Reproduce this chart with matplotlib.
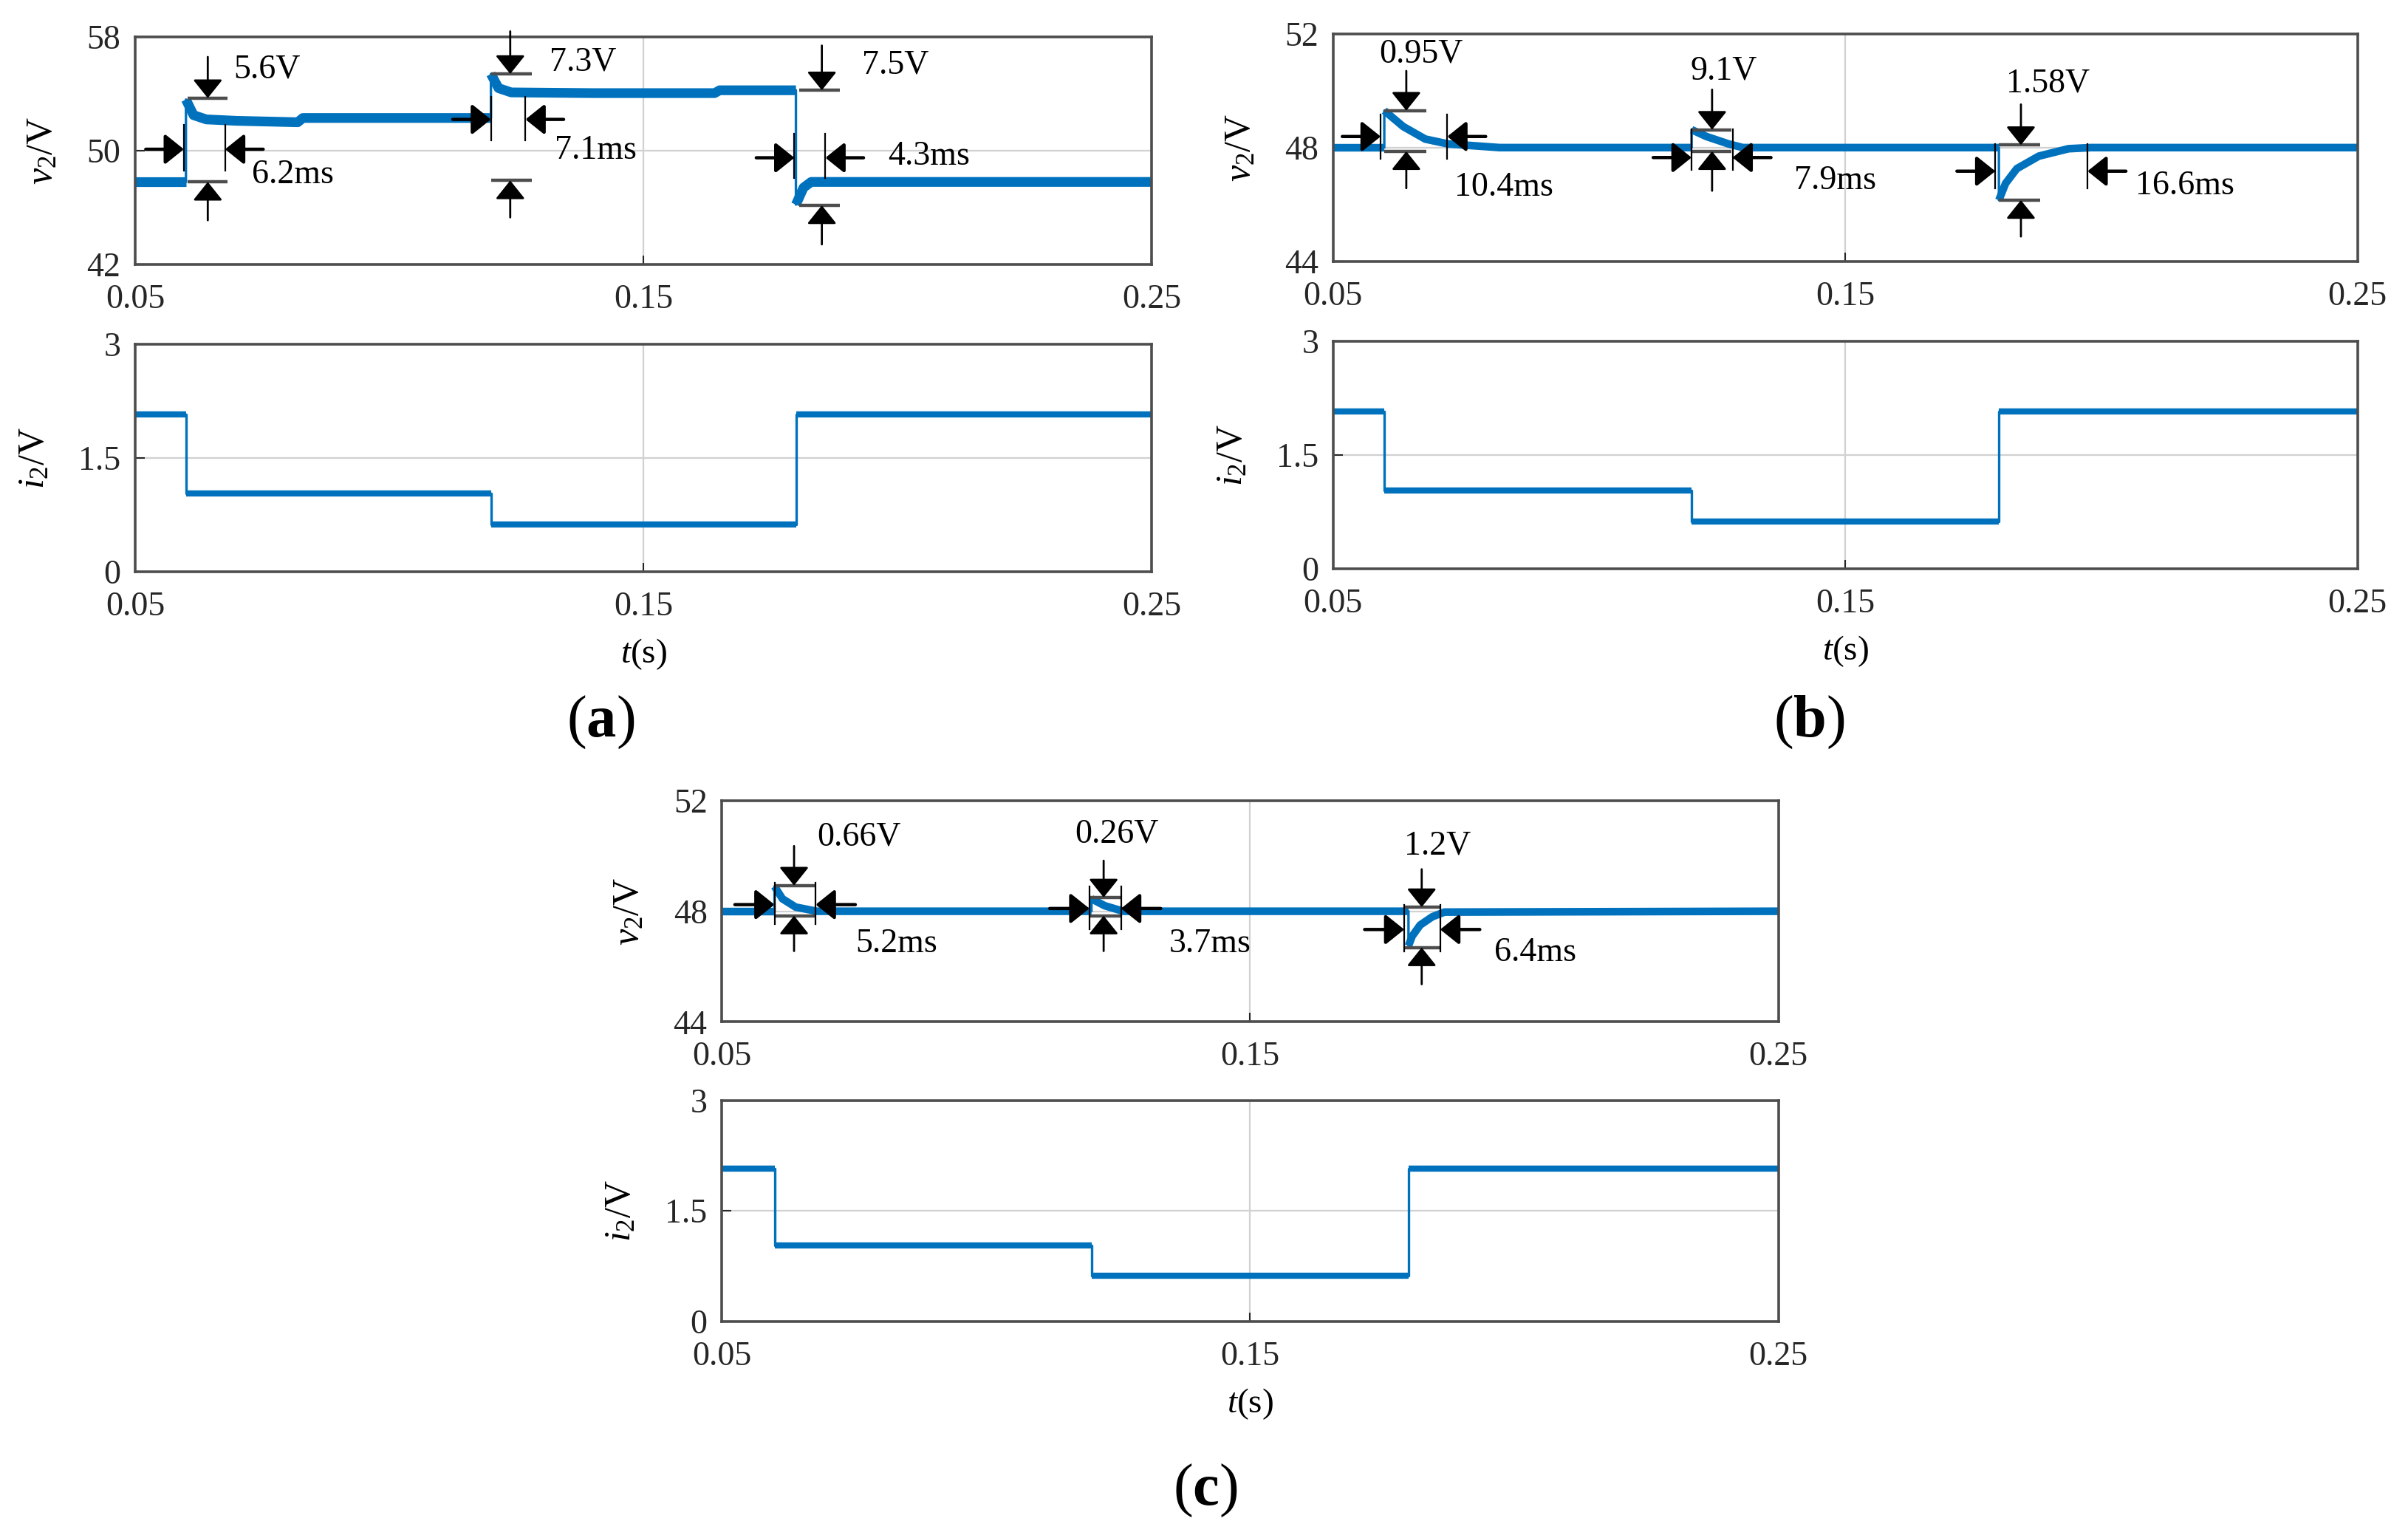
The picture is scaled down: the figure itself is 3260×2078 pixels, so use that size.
import numpy as np
import matplotlib.pyplot as plt

plt.rcParams['font.family'] = ['Liberation Serif', 'DejaVu Serif']
plt.rcParams['mathtext.fontset'] = 'custom'
plt.rcParams['mathtext.rm'] = 'Liberation Serif'
plt.rcParams['mathtext.it'] = 'Liberation Serif:italic'
plt.rcParams['mathtext.bf'] = 'Liberation Serif:bold'

BLUE = '#0072BD'
FS = 33

# ---- data ----
# (a) output voltage v2 (V)
t_a = [0.05, 0.06, 0.06, 0.0615, 0.064, 0.07, 0.082, 0.083, 0.12, 0.12,
       0.1215, 0.124, 0.14, 0.164, 0.165, 0.18, 0.18, 0.1815, 0.183, 0.25]
v_a = [47.8, 47.8, 53.6, 52.5, 52.2, 52.1, 52.0, 52.3, 52.3, 55.4,
       54.4, 54.1, 54.05, 54.05, 54.25, 54.25, 46.2, 47.4, 47.8, 47.8]

# (b) output voltage v2 (V)
t_b = [0.05, 0.06, 0.06, 0.0637, 0.068, 0.0724, 0.0825, 0.12, 0.12, 0.1229,
       0.1272, 0.13, 0.18, 0.18, 0.1813, 0.1835, 0.1878, 0.1936, 0.198, 0.25]
v_b = [48.0, 48.0, 49.3, 48.74, 48.3, 48.13, 48.0, 48.0, 48.63, 48.39,
       48.13, 48.0, 48.0, 46.15, 46.74, 47.26, 47.7, 47.96, 48.0, 48.0]

# (c) output voltage v2 (V)
t_c = [0.05, 0.06, 0.06, 0.0615, 0.064, 0.068, 0.12, 0.12, 0.1225, 0.126,
       0.18, 0.18, 0.1807, 0.1822, 0.1845, 0.1868, 0.25]
v_c = [48.0, 48.0, 48.9, 48.45, 48.15, 48.0, 48.0, 48.45, 48.2, 48.0,
       48.0, 46.75, 47.1, 47.5, 47.8, 47.97, 48.0]

# load current i2 (same in all three cases)
i_t = [0.05, 0.06, 0.12, 0.18, 0.25]
i_lvl = [2.07, 1.03, 0.62, 2.07]

# transient markers: vertical-line times, bar span, peak/base levels, arrow x,
# arrow tails (top, bottom), horizontal arrow level, vertical-line span, labels
marks_a = [
    dict(vl=(0.0596, 0.0677), bar=(0.0603, 0.0682), hi=53.7, lo=47.8, tx=0.0643,
         top=56.6, bot=45.1, hy=50.1, vspan=(48.6, 51.8),
         vtxt='5.6V', vpos=(0.0694, 55.7), mtxt='6.2ms', mpos=(0.073, 48.3)),
    dict(vl=(0.1200, 0.1268), bar=(0.1200, 0.1280), hi=55.4, lo=47.9, tx=0.1238,
         top=58.4, bot=45.3, hy=52.2, vspan=(50.7, 53.8),
         vtxt='7.3V', vpos=(0.1316, 56.2), mtxt='7.1ms', mpos=(0.1326, 50.0)),
    dict(vl=(0.1797, 0.1858), bar=(0.1807, 0.1887), hi=54.25, lo=46.15, tx=0.1851,
         top=57.4, bot=43.4, hy=49.5, vspan=(48.1, 51.2),
         vtxt='7.5V', vpos=(0.193, 56.0), mtxt='4.3ms', mpos=(0.1981, 49.6)),
]
marks_b = [
    dict(vl=(0.0593, 0.0723), bar=(0.0600, 0.0682), hi=49.3, lo=47.87, tx=0.0643,
         top=50.7, bot=46.57, hy=48.39, vspan=(47.6, 49.17),
         vtxt='0.95V', vpos=(0.059, 51.3), mtxt='10.4ms', mpos=(0.0737, 46.6)),
    dict(vl=(0.1200, 0.1280), bar=(0.1200, 0.1277), hi=48.63, lo=47.87, tx=0.1240,
         top=50.04, bot=46.48, hy=47.65, vspan=(47.22, 48.65),
         vtxt='9.1V', vpos=(0.1197, 50.7), mtxt='7.9ms', mpos=(0.140, 46.83)),
    dict(vl=(0.1793, 0.1973), bar=(0.1800, 0.1880), hi=48.09, lo=46.15, tx=0.1843,
         top=49.52, bot=44.87, hy=47.17, vspan=(46.57, 48.13),
         vtxt='1.58V', vpos=(0.1814, 50.26), mtxt='16.6ms', mpos=(0.2067, 46.65)),
]
marks_c = [
    dict(vl=(0.0600, 0.0678), bar=(0.0600, 0.0678), hi=48.93, lo=47.84, tx=0.0637,
         top=50.36, bot=46.56, hy=48.24, vspan=(47.53, 49.04),
         vtxt='0.66V', vpos=(0.068, 50.67), mtxt='5.2ms', mpos=(0.0754, 46.82)),
    dict(vl=(0.1196, 0.1256), bar=(0.1196, 0.1256), hi=48.5, lo=47.84, tx=0.1223,
         top=49.83, bot=46.56, hy=48.1, vspan=(47.35, 48.9),
         vtxt='0.26V', vpos=(0.1169, 50.8), mtxt='3.7ms', mpos=(0.1347, 46.82)),
    dict(vl=(0.1792, 0.1860), bar=(0.1792, 0.1860), hi=48.15, lo=46.69, tx=0.1825,
         top=49.52, bot=45.36, hy=47.34, vspan=(46.56, 48.24),
         vtxt='1.2V', vpos=(0.1792, 50.36), mtxt='6.4ms', mpos=(0.1963, 46.51)),
]


def style_axes(ax, ylim, yticks):
    ax.set_xlim(0.05, 0.25)
    ax.set_ylim(*ylim)
    ax.set_xticks([0.05, 0.15, 0.25])
    ax.set_xticklabels(['0.05', '0.15', '0.25'])
    ax.set_yticks(yticks)
    ax.set_yticklabels([f'{y:g}' for y in yticks])
    ax.grid(True, color='0.82', lw=1.6)
    ax.set_axisbelow(True)
    ax.tick_params(direction='in', length=9, width=1.5, labelsize=FS,
                   colors='0.15', top=False, right=False)
    ax.tick_params(axis='x', pad=19)
    ax.tick_params(axis='y', pad=14)
    for s in ax.spines.values():
        s.set_color('0.3')
        s.set_linewidth(2.6)


def arrow(ax, tail, tip, lw=2.0):
    ax.annotate('', xy=tip, xytext=tail, annotation_clip=False,
                arrowprops=dict(arrowstyle='-|>,head_length=0.6,head_width=0.48',
                                mutation_scale=26, lw=lw, color='k',
                                shrinkA=0, shrinkB=0))


def mark(ax, m):
    for lv in (m['hi'], m['lo']):
        ax.plot(m['bar'], [lv, lv], color='0.3', lw=3.2,
                solid_capstyle='butt', clip_on=False)
    for x in m['vl']:
        ax.plot([x, x], m['vspan'], color='k', lw=1.6)
    arrow(ax, (m['tx'], m['top']), (m['tx'], m['hi']))
    arrow(ax, (m['tx'], m['bot']), (m['tx'], m['lo']))
    arrow(ax, (m['vl'][0] - 0.0075, m['hy']), (m['vl'][0], m['hy']), lw=3.2)
    arrow(ax, (m['vl'][1] + 0.0075, m['hy']), (m['vl'][1], m['hy']), lw=3.2)
    ax.text(*m['vpos'], m['vtxt'], fontsize=FS, ha='left', va='center')
    ax.text(*m['mpos'], m['mtxt'], fontsize=FS, ha='left', va='center')


def plot_voltage(ax, t, v, band):
    t = np.asarray(t)
    v = np.asarray(v)
    ax.plot(t, v, color=BLUE, lw=2.4)
    # thicker band on the continuous pieces (switching ripple)
    cuts = np.where(np.diff(t) == 0)[0] + 1
    for seg_t, seg_v in zip(np.split(t, cuts), np.split(v, cuts)):
        ax.plot(seg_t, seg_v, color=BLUE, lw=band, solid_capstyle='butt')


def plot_current(ax):
    ax.step(i_t, i_lvl + [i_lvl[-1]], where='post', color=BLUE, lw=2.4)
    ax.hlines(i_lvl, i_t[:-1], i_t[1:], color=BLUE, lw=6)


fig = plt.figure(figsize=(32.6, 20.78), dpi=100)

panels = [
    ((0.0561, 0.8278, 0.4222, 0.1481), (0.0561, 0.6276, 0.4222, 0.1481),
     t_a, v_a, 9.5, (42, 58), [42, 50, 58], marks_a, 'a', (0.2494, 0.5295)),
    ((0.5536, 0.8298, 0.4254, 0.1481), (0.5536, 0.6296, 0.4254, 0.1481),
     t_b, v_b, 7.5, (44, 52), [44, 48, 52], marks_b, 'b', (0.7513, 0.5295)),
    ((0.2997, 0.3343, 0.4388, 0.1441), (0.2997, 0.1391, 0.4388, 0.1441),
     t_c, v_c, 7.5, (44, 52), [44, 48, 52], marks_c, 'c', (0.5006, 0.029)),
]

for rect_v, rect_i, t, v, band, ylim, yticks, marks, tag, tag_xy in panels:
    axv = fig.add_axes(rect_v)
    style_axes(axv, ylim, yticks)
    plot_voltage(axv, t, v, band)
    for m in marks:
        mark(axv, m)
    axv.set_ylabel(r'$v_2$/V', fontsize=36, labelpad=26)

    axi = fig.add_axes(rect_i)
    style_axes(axi, (0, 3), [0, 1.5, 3])
    plot_current(axi)
    axi.set_ylabel(r'$i_2$/V', fontsize=36, labelpad=26)
    axi.set_xlabel(r'$t$(s)', fontsize=34, labelpad=14)

    fig.text(*tag_xy, r'($\mathbf{%s}$)' % tag, fontsize=58,
             ha='center', va='center')

fig.savefig('out.png', dpi=100)
